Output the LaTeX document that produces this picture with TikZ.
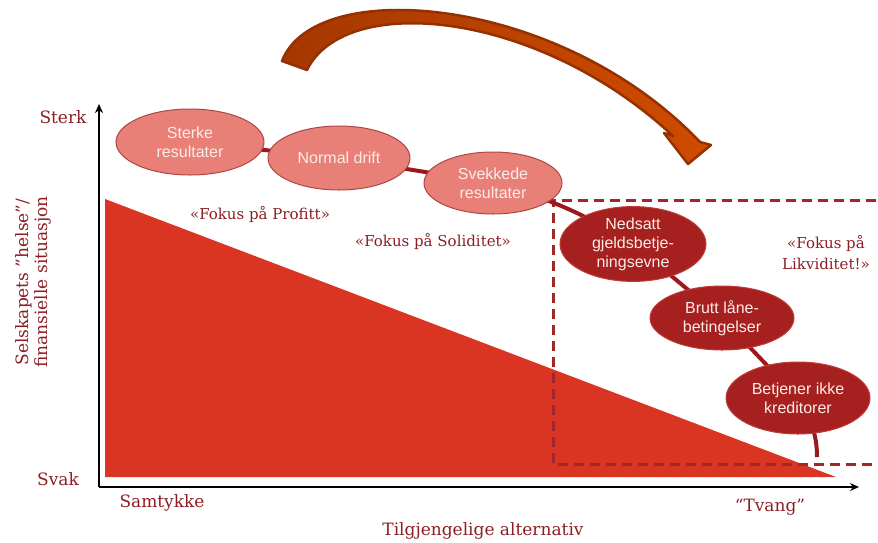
\documentclass[tikz,border=0pt]{standalone}
\usepackage{fontspec}
\setmainfont{DejaVu Serif}
\newfontfamily\ellfont{Liberation Sans}
\usetikzlibrary{shapes.geometric,arrows.meta,backgrounds}
\definecolor{trired}{RGB}{218,52,34}
\definecolor{txtred}{RGB}{140,30,35}
\definecolor{lightfill}{RGB}{232,128,120}
\definecolor{lightdraw}{RGB}{175,70,70}
\definecolor{darkfill}{RGB}{165,32,30}
\definecolor{darkdraw}{RGB}{190,60,55}
\definecolor{conred}{RGB}{155,25,30}
\definecolor{dashred}{RGB}{160,40,40}
\definecolor{arrowA}{RGB}{165,55,0}
\definecolor{arrowB}{RGB}{208,76,0}
\definecolor{arrowdraw}{RGB}{150,48,0}
\definecolor{elltxt}{RGB}{252,236,232}
\pgfdeclarelayer{bgtri}
\pgfdeclarelayer{bgcon}
\pgfsetlayers{bgtri,bgcon,main}
\tikzset{
  ellbase/.style={ellipse, inner sep=0pt, align=center, text=elltxt,
    font=\ellfont\fontsize{16}{19}\selectfont, line width=1pt},
  lightell/.style={ellbase, fill=lightfill, draw=lightdraw},
  darkell/.style={ellbase, fill=darkfill, draw=darkdraw},
  conn/.style={draw=conred, line width=4pt},
  lbl/.style={text=txtred, font=\fontsize{17}{20}\selectfont, inner sep=0pt},
  focus/.style={text=txtred, font=\fontsize{15}{21}\selectfont, inner sep=0pt, align=center},
  axisline/.style={line width=2.2pt, -{Stealth[length=9pt,width=8pt]}}
}
\begin{document}
\begin{tikzpicture}[x=1pt,y=-1pt]
\useasboundingbox (0,0) rectangle (878,542);

% ellipses
\node[lightell, minimum width=148pt, minimum height=66pt] (sterke) at (190,142) {Sterke\\resultater};
\node[lightell, minimum width=142pt, minimum height=64pt] (normal) at (339,158) {Normal drift};
\node[lightell, minimum width=138pt, minimum height=62pt] (svekk) at (493,183) {Svekkede\\resultater};
\node[darkell, minimum width=146pt, minimum height=74pt] (nedsatt) at (633,244) {Nedsatt\\gjeldsbetje-\\ningsevne};
\node[darkell, minimum width=144pt, minimum height=64pt] (brutt) at (722,318) {Brutt låne-\\betingelser};
\node[darkell, minimum width=144pt, minimum height=72pt] (betj) at (798,398) {Betjener ikke\\kreditorer};
\coordinate (tailend) at (817,457);

\begin{pgfonlayer}{bgtri}
  \coordinate (origin) at (99,487);
  \coordinate (ytip) at (99,104);
  \coordinate (xtip) at (859,487);
  \fill[trired] (105,199) -- (836,477) -- (105,477) -- cycle;
  \draw[dashred, line width=3pt, dash pattern=on 10pt off 6pt] (876,200) -- (553,200) -- (553,464) -- (878,464);
  \draw[axisline] (origin) -- (ytip);
  \draw[axisline] (origin) -- (xtip);
\end{pgfonlayer}

\begin{pgfonlayer}{bgcon}
  \draw[conn] (sterke.center) -- (normal.center);
  \draw[conn] (normal.center) -- (svekk.center);
  \draw[conn] (svekk.center) to[bend left=8] (nedsatt.center);
  \draw[conn] (nedsatt.center) -- (brutt.center);
  \draw[conn] (brutt.center) -- (betj.center);
  \draw[conn] (betj.center) to[out=-60,in=90] (tailend);
\end{pgfonlayer}

% big curved arrow
\path[left color=arrowA, right color=arrowB, draw=arrowdraw, line width=2.5pt, line join=round]
  (282,61) .. controls (315,-25) and (560,-5) .. (700,142)
  -- (711,145) -- (688,164) -- (664,133) -- (673,136)
  .. controls (538,10) and (345,-8) .. (307,70) -- cycle;

% labels
\node[lbl] (sterk) at (63,117) {Sterk};
\node[lbl] (svak) at (58,479) {Svak};
\node[lbl] (samtykke) at (162,503) {Samtykke};
\node[lbl] (tvang) at (770,507) {“Tvang”};
\node[lbl] (tilgj) at (483,531) {Tilgjengelige alternativ};
\node[lbl, rotate=90, align=center, font=\fontsize{17}{19}\selectfont] (ylab) at (33,282) {Selskapets ”helse”/\\finansielle situasjon};
\node[focus] (profitt) at (260,214) {«Fokus på Profitt»};
\node[focus] (solid) at (433,241) {«Fokus på Soliditet»};
\node[focus] (likv) at (826,253) {«Fokus på\\Likviditet!»};
\end{tikzpicture}
\end{document}
